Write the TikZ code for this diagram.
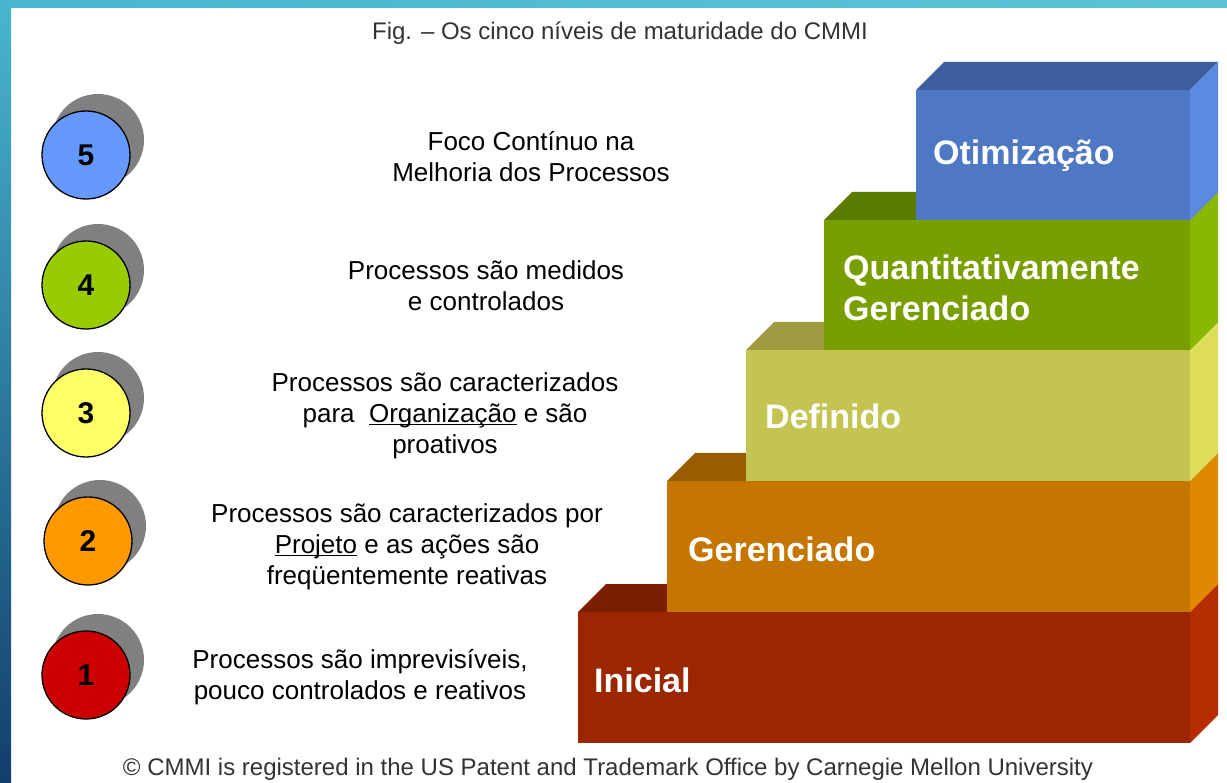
\documentclass[tikz,border=0pt]{standalone}
\usepackage{fontspec}
\setmainfont{Liberation Sans}
\usetikzlibrary{positioning}
\definecolor{frameTop}{RGB}{72,182,206}
\definecolor{frameBot}{RGB}{18,62,108}
\definecolor{frameRight}{RGB}{92,196,214}
\definecolor{redFront}{RGB}{156,38,0}
\definecolor{redTop}{RGB}{122,32,0}
\definecolor{redSide}{RGB}{180,44,0}
\definecolor{orFront}{RGB}{196,118,0}
\definecolor{orTop}{RGB}{154,92,0}
\definecolor{orSide}{RGB}{224,136,0}
\definecolor{yeFront}{RGB}{196,196,82}
\definecolor{yeTop}{RGB}{160,154,64}
\definecolor{yeSide}{RGB}{222,222,90}
\definecolor{grFront}{RGB}{120,158,0}
\definecolor{grTop}{RGB}{90,122,0}
\definecolor{grSide}{RGB}{136,184,0}
\definecolor{blFront}{RGB}{79,120,196}
\definecolor{blTop}{RGB}{62,95,158}
\definecolor{blSide}{RGB}{91,138,224}

\begin{document}
\begin{tikzpicture}[x=1pt,y=-1pt,
        num/.style={circle,draw=black,line width=1.3pt,minimum size=88pt,inner sep=0pt,font=\fontsize{30}{30}\selectfont\bfseries},
        numshadow/.style={fill=gray,circle,minimum size=92pt,inner sep=0pt},
        desc/.style={align=center,inner sep=0pt,font=\fontsize{26}{31}\selectfont},
        level/.style={anchor=west,align=left,inner sep=0pt,text=white,font=\fontsize{34}{41}\selectfont\bfseries},
        smalltext/.style={inner sep=0pt,text=black!80,font=\fontsize{24}{24}\selectfont}
    ]
    \useasboundingbox (0,0) rectangle (1227,783);
    \fill[white] (0,0) rectangle (1227,783);
    \shade[left color=frameTop,right color=frameRight] (0,0) rectangle (1227,8);
    \shade[top color=frameTop,bottom color=frameBot] (0,0) rectangle (11,783);

    \node[smalltext] (title) at (620,33) {Fig. – Os cinco níveis de maturidade do CMMI};
    \node[smalltext] (footer) at (608,769) {© CMMI is registered in the US Patent and Trademark Office by Carnegie Mellon University};

    \node[numshadow] (s5) at (98,140) {};
    \node[numshadow] (s4) at (98,270) {};
    \node[numshadow] (s3) at (98,398) {};
    \node[numshadow] (s2) at (100,526) {};
    \node[numshadow] (s1) at (98,660) {};
    \node[num,fill={rgb,255:red,102;green,153;blue,255}] (n5) at (86,155) {5};
    \node[num,fill={rgb,255:red,153;green,204;blue,0}] (n4) at (86,285) {4};
    \node[num,fill={rgb,255:red,255;green,255;blue,102}] (n3) at (86,413) {3};
    \node[num,fill={rgb,255:red,255;green,153;blue,0}] (n2) at (88,541) {2};
    \node[num,fill={rgb,255:red,204;green,0;blue,0}] (n1) at (86,675) {1};

    \node[desc] (d5) at (531,157) {Foco Contínuo na\\Melhoria dos Processos};
    \node[desc] (d4) at (486,286) {Processos são medidos\\e controlados};
    \node[desc] (d3) at (445,416) {Processos são caracterizados\\para\ \ \underline{\smash{Organização}} e são\\proativos};
    \node[desc] (d2) at (407,547) {Processos são caracterizados por\\\underline{\smash{Projeto}} e as ações são\\freqüentemente reativas};
    \node[desc] (d1) at (360,677) {Processos são imprevisíveis,\\pouco controlados e reativos};

    \fill[redFront] (578,612) rectangle (1190,743);
    \fill[redTop] (578,612) -- (606,584) -- (1218,584) -- (1190,612) -- cycle;
    \fill[redSide] (1190,612) -- (1218,584) -- (1218,715) -- (1190,743) -- cycle;
    \fill[orFront] (667,481) rectangle (1190,612);
    \fill[orTop] (667,481) -- (695,453) -- (1218,453) -- (1190,481) -- cycle;
    \fill[orSide] (1190,481) -- (1218,453) -- (1218,584) -- (1190,612) -- cycle;
    \fill[yeFront] (746,350) rectangle (1190,481);
    \fill[yeTop] (746,350) -- (774,322) -- (1218,322) -- (1190,350) -- cycle;
    \fill[yeSide] (1190,350) -- (1218,322) -- (1218,453) -- (1190,481) -- cycle;
    \fill[grFront] (824,220) rectangle (1190,350);
    \fill[grTop] (824,220) -- (852,192) -- (1218,192) -- (1190,220) -- cycle;
    \fill[grSide] (1190,220) -- (1218,192) -- (1218,322) -- (1190,350) -- cycle;
    \fill[blFront] (916,90) rectangle (1190,220);
    \fill[blTop] (916,90) -- (944,62) -- (1218,62) -- (1190,90) -- cycle;
    \fill[blSide] (1190,90) -- (1218,62) -- (1218,192) -- (1190,220) -- cycle;

    \node[level] (l1) at (594,680) {Inicial};
    \node[level] (l2) at (688,549) {Gerenciado};
    \node[level] (l3) at (765,416) {Definido};
    \node[level] (l4) at (843,288) {Quantitativamente\\Gerenciado};
    \node[level] (l5) at (933,156) {Otimização};
\end{tikzpicture}
\end{document}
